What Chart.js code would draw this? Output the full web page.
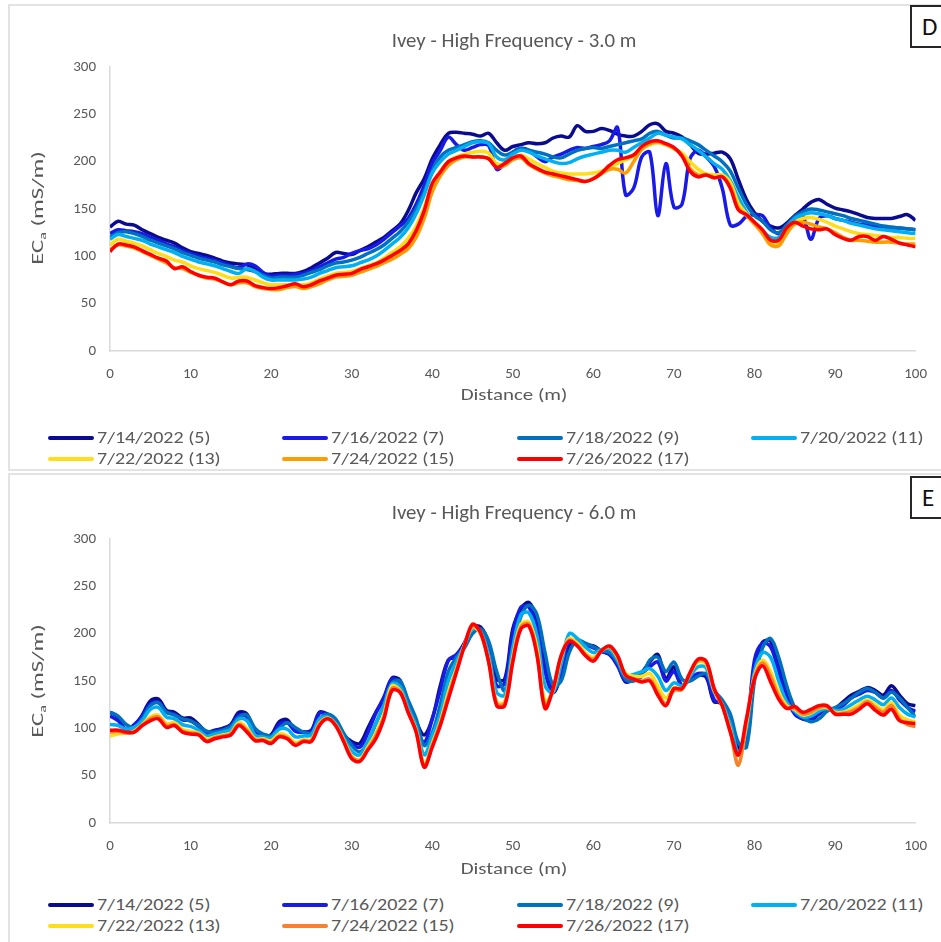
<!DOCTYPE html>
<html>
<head>
<meta charset="utf-8">
<script src="https://cdn.jsdelivr.net/npm/chart.js@4.4.1/dist/chart.umd.min.js"></script>
<style>
  html, body { margin:0; padding:0; background:#fff; width:941px; height:942px; overflow:hidden; }
  body { position:relative; font-family:'Carlito','Liberation Sans Narrow','Open Sans',sans-serif; color:#595959; }
  .panel { position:absolute; border:2px solid #e3e3e3; box-sizing:border-box; }
  canvas { position:absolute; left:0; }
  .title { position:absolute; left:110px; width:808px; text-align:center; font-size:20px; line-height:24px; white-space:nowrap; transform:scaleX(1.04); }
  .xtitle { position:absolute; left:110px; width:808px; text-align:center; font-size:17px; line-height:20px; white-space:nowrap; transform:scaleX(1.23); }
  .ytitle { position:absolute; left:40px; transform:translate(-50%,-50%) rotate(-90deg) scaleX(1.45); font-size:17px; line-height:20px; white-space:nowrap; }
  .ytitle sub { font-size:11px; vertical-align:-3px; }
  .tag { position:absolute; left:910px; width:45px; height:43px; border:2px solid #262626; box-sizing:border-box; background:#fff; font-size:25px; line-height:39px; padding-left:10px; color:#111; }
  .lg { position:absolute; font-size:17px; line-height:20px; white-space:nowrap; }
  .lg i { position:absolute; left:0; top:8px; width:46px; height:4px; border-radius:2px; }
  .lg span { position:absolute; left:49px; top:0; transform:scaleX(1.18); transform-origin:left center; }
</style>
</head>
<body>
<div class="panel" style="left:8px;top:4px;width:960px;height:467px;"></div>
<div class="panel" style="left:8px;top:473px;width:960px;height:480px;"></div>
<canvas id="c1" width="941" height="403" style="top:0px"></canvas>
<canvas id="c2" width="941" height="403" style="top:472px"></canvas>
<div class="title" style="top:28px">Ivey - High Frequency - 3.0 m</div>
<div class="title" style="top:500px">Ivey - High Frequency - 6.0 m</div>
<div class="xtitle" style="top:385px">Distance (m)</div>
<div class="xtitle" style="top:859px">Distance (m)</div>
<div class="ytitle" style="top:208px">EC<sub>a</sub> (mS/m)</div>
<div class="ytitle" style="top:681px">EC<sub>a</sub> (mS/m)</div>
<div class="tag" style="top:5px">D</div>
<div class="tag" style="top:476px">E</div>
<div id="leg1"></div>
<div id="leg2"></div>
<script>
const distance = [0,1,2,3,4,5,6,7,8,9,10,11,12,13,14,15,16,17,18,19,20,21,22,23,24,25,26,27,28,29,30,31,32,33,34,35,36,37,38,39,40,41,42,43,44,45,46,47,48,49,50,51,52,53,54,55,56,57,58,59,60,61,62,63,64,65,66,67,68,69,70,71,72,73,74,75,76,77,78,79,80,81,82,83,84,85,86,87,88,89,90,91,92,93,94,95,96,97,98,99,100];
const seriesNames = ['7/14/2022 (5)','7/16/2022 (7)','7/18/2022 (9)','7/20/2022 (11)','7/22/2022 (13)','7/24/2022 (15)','7/26/2022 (17)'];
const yTicks = [0,50,100,150,200,250,300];
const xTicks = [0,10,20,30,40,50,60,70,80,90,100];

// Panel D: 3.0 m
const d3_0714 = [131,137,134,133,128,124,120,117,114,109, 105,103,101,98,95,93,92,91,87,82, 81,82,82,82,84,88,93,98,104,103, 102,106,110,115,120,127,134,148,167,182, 203,218,230,231,230,229,227,230,220,212, 216,218,220,219,220,225,227,226,238,232, 232,235,233,229,227,227,232,239,240,232, 230,226,218,209,208,209,210,203,181,160, 146,137,132,130,135,143,150,157,160,155, 151,149,147,144,141,140,140,140,142,144,138];
const d3_0716 = [124,128,127,126,124,120,117,113,110,106, 103,100,98,96,93,90,88,92,90,83, 79,80,80,81,82,85,89,93,97,99, 103,106,108,112,118,125,132,140,155,175, 198,212,226,218,212,215,218,217,192,198, 210,214,212,205,200,205,208,212,215,214, 216,218,222,236,165,172,205,210,143,198, 152,155,203,212,205,195,172,133,134,142, 144,143,130,124,132,140,142,118,140,143, 140,138,136,134,133,132,131,130,130,129,128];
const d3_0718 = [120,125,126,124,121,117,114,111,108,104, 101,98,96,94,91,89,87,86,84,80, 77,78,78,78,80,83,86,90,93,94, 96,99,103,107,112,119,126,136,150,168, 190,205,212,215,218,221,222,220,212,207, 210,214,212,210,208,205,204,208,212,214, 215,214,216,218,220,222,224,230,232,228, 225,225,222,218,212,206,200,190,172,155, 143,137,128,125,133,142,147,150,149,147, 145,143,140,138,136,134,132,131,130,129,128];
const d3_0720 = [118,123,121,119,117,113,110,107,104,100, 97,94,92,90,87,84,82,87,84,78, 75,75,75,75,76,78,82,85,88,89, 90,93,96,100,106,113,120,130,145,165, 188,200,208,212,216,220,221,219,205,202, 208,212,210,206,203,200,198,199,203,206, 208,210,212,212,210,215,220,225,230,228, 226,224,218,212,205,198,192,180,162,147, 135,127,120,120,130,140,144,146,145,143, 140,138,135,133,131,129,128,127,126,125,124];
const d3_0722 = [112,118,116,114,111,107,103,100,96,94, 90,87,85,83,80,77,78,78,75,72, 70,70,70,70,70,72,76,79,82,83, 84,87,90,93,98,104,110,119,132,152, 175,190,200,205,208,210,211,209,198,198, 203,207,203,198,194,190,188,187,187,187, 188,190,194,198,202,206,213,218,220,218, 214,209,200,192,187,186,186,178,156,145, 136,126,116,114,125,136,140,141,139,136, 132,129,126,124,123,122,121,120,120,119,119];
const d3_0724 = [107,112,111,109,105,101,97,93,88,87, 83,80,77,76,73,70,72,72,68,66, 65,65,67,68,66,68,71,75,78,79, 80,83,86,89,93,97,102,108,120,140, 168,185,196,202,205,205,205,203,194,196, 202,204,197,192,188,185,183,181,180,179, 182,187,192,192,188,200,213,219,221,218, 214,207,193,186,186,183,184,174,151,143, 134,124,112,111,124,134,136,134,131,129, 125,120,117,117,116,115,115,115,114,113,113];
const d3_0726 = [105,113,112,110,106,102,98,95,87,89, 84,80,78,77,73,70,74,74,69,67, 66,67,69,71,68,70,74,77,80,81, 82,86,89,92,96,101,106,113,127,148, 177,189,200,204,206,205,205,203,194,198, 204,206,198,193,189,187,185,183,181,179, 182,188,196,202,204,207,216,221,222,219, 215,206,190,184,186,183,184,172,149,144, 136,128,117,117,130,136,132,129,128,129, 123,119,117,121,121,117,121,118,114,112,110];

// Panel E: 6.0 m
const d6_0714 = [117,112,98,103,114,129,131,119,117,111, 111,104,96,98,100,104,117,115,95,93, 93,107,109,98,96,98,117,115,107,93, 86,84,100,117,131,153,151,124,107,93, 110,145,172,176,190,207,207,190,152,152, 205,226,233,215,170,138,156,187,191,189, 187,182,178,168,149,152,159,170,178,152, 165,145,152,156,154,128,128,110,79,93, 166,191,192,166,138,117,110,109,115,121, 121,128,135,139,143,140,135,145,135,126,124];
const d6_0716 = [113,108,99,104,113,126,128,118,115,109, 108,102,95,97,99,103,114,112,95,92, 91,104,106,97,96,97,116,114,106,92, 84,80,95,116,133,152,148,120,102,85, 110,140,172,178,190,207,203,180,145,148, 200,228,228,205,160,138,160,192,192,188, 185,181,178,166,150,152,158,165,170,150, 160,145,152,158,156,130,125,104,72,95, 172,190,186,160,132,115,110,110,116,120, 120,124,132,136,140,138,132,140,130,122,118];
const d6_0718 = [117,113,104,101,110,124,127,117,114,110, 108,103,97,96,98,102,112,114,100,94, 92,100,106,101,96,95,110,115,110,95, 82,75,85,105,125,148,150,130,110,82, 95,125,160,175,185,200,205,192,160,140, 185,218,230,220,180,145,150,180,193,190, 186,182,180,170,152,150,155,172,175,160, 170,152,150,155,158,140,130,115,85,80, 150,185,195,175,145,122,112,107,110,118, 122,126,132,138,142,138,132,138,132,122,112];
const d6_0720 = [104,103,99,101,108,120,122,112,110,104, 102,98,92,94,96,99,110,108,93,91, 90,99,99,91,92,93,110,112,105,90, 76,72,86,105,124,147,144,122,102,72, 92,115,150,170,188,205,202,178,138,135, 185,220,222,198,145,138,168,200,195,186, 180,183,184,172,155,157,160,163,155,140, 148,145,155,165,164,138,126,104,75,100, 160,180,175,150,128,118,112,113,118,121, 119,120,125,130,134,130,125,132,122,115,112];
const d6_0722 = [92,94,95,97,104,112,114,105,106,99, 97,95,89,91,93,95,106,100,89,89, 87,94,92,85,88,88,105,111,104,88, 71,67,80,95,115,145,140,118,98,62, 84,107,138,163,188,207,200,172,128,128, 175,210,212,185,128,140,175,195,190,180, 175,182,186,175,158,155,155,158,145,132, 143,142,158,170,168,140,124,98,62,105, 155,172,160,138,124,120,114,116,121,122, 117,117,120,125,130,125,120,127,114,109,107];
const d6_0724 = [96,97,95,96,103,110,112,103,104,97, 95,94,87,90,92,94,104,98,88,88, 85,92,90,83,87,87,104,110,103,87, 70,66,78,92,112,142,139,118,97,60, 82,105,134,161,188,208,201,171,126,126, 172,207,210,180,124,141,176,193,188,178, 173,182,186,176,156,152,150,152,138,126, 140,141,158,172,170,141,124,97,61,108, 153,169,155,134,122,121,115,117,122,123, 116,116,118,122,128,122,117,124,110,104,102];
const d6_0726 = [98,98,96,96,103,108,110,101,103,96, 94,93,86,89,91,93,103,96,87,87, 84,91,89,82,86,86,103,110,103,86, 68,65,77,89,110,140,138,117,96,59, 80,103,131,159,187,210,201,170,124,124, 170,205,208,177,121,142,177,192,187,177, 171,182,187,177,156,152,149,150,135,124, 142,142,159,173,171,142,124,96,72,110, 152,166,149,131,121,123,117,120,124,124, 115,115,115,120,126,119,114,120,108,106,105];

const colorsD = ['#0b0b8f','#1a1ae6','#0070c0','#00b0f0','#ffdd1a','#ff9c00','#ff0000'];
const colorsE = ['#0b0b8f','#1a1ae6','#0070c0','#00b0f0','#ffdd1a','#f5822e','#ff0000'];

const panelD = [d3_0714,d3_0716,d3_0718,d3_0720,d3_0722,d3_0724,d3_0726];
const panelE = [d6_0714,d6_0716,d6_0718,d6_0720,d6_0722,d6_0724,d6_0726];

const FONT = "'Carlito','Liberation Sans Narrow','Open Sans',sans-serif";
Chart.defaults.font.family = FONT;
Chart.defaults.color = '#595959';

function makeChart(id, series, colors) {
  const datasets = series.map((vals, i) => ({
    label: seriesNames[i],
    data: distance.map((d, k) => ({x: d, y: vals[k]})),
    borderColor: colors[i],
    backgroundColor: colors[i],
    borderWidth: 3.5,
    pointRadius: 0,
    tension: 0.35,
    fill: false,
    order: 7 - i
  }));
  return new Chart(document.getElementById(id), {
    type: 'line',
    data: { datasets },
    options: {
      responsive: false,
      animation: false,
      devicePixelRatio: 1,
      layout: { padding: { top: 67, right: 23, left: 0, bottom: 0 } },
      plugins: { legend: { display: false }, title: { display: false }, tooltip: { enabled: false } },
      scales: {
        x: {
          type: 'linear', min: 0, max: 100,
          afterBuildTicks: s => { s.ticks = xTicks.map(v => ({value: v})); },
          afterFit: s => { s.height = 52; },
          grid: { display: false, drawTicks: false },
          border: { display: true, color: '#d9d9d9', width: 1.5 },
          ticks: { padding: 14, font: { size: 15 }, color: '#595959', maxRotation: 0 },
          title: { display: false }
        },
        y: {
          min: 0, max: 300,
          afterBuildTicks: s => { s.ticks = yTicks.map(v => ({value: v})); },
          afterFit: s => { s.width = 110; },
          grid: { display: false, drawTicks: false },
          border: { display: true, color: '#d9d9d9', width: 1.5 },
          ticks: { padding: 14, font: { size: 15 }, color: '#595959' }
        }
      }
    }
  });
}
makeChart('c1', panelD, colorsD);
makeChart('c2', panelE, colorsE);

function makeLegend(id, colors, row1) {
  const cols = [48, 282, 517, 751];
  const host = document.getElementById(id);
  seriesNames.forEach((name, i) => {
    const r = Math.floor(i / 4), c = i % 4;
    const el = document.createElement('div');
    el.className = 'lg';
    el.style.left = cols[c] + 'px';
    el.style.top = (row1 + r * 21 - 10) + 'px';
    el.innerHTML = '<i style="background:' + colors[i] + '"></i><span>' + name + '</span>';
    host.appendChild(el);
  });
}
makeLegend('leg1', colorsD, 438);
makeLegend('leg2', colorsE, 905);
</script>
</body>
</html>
